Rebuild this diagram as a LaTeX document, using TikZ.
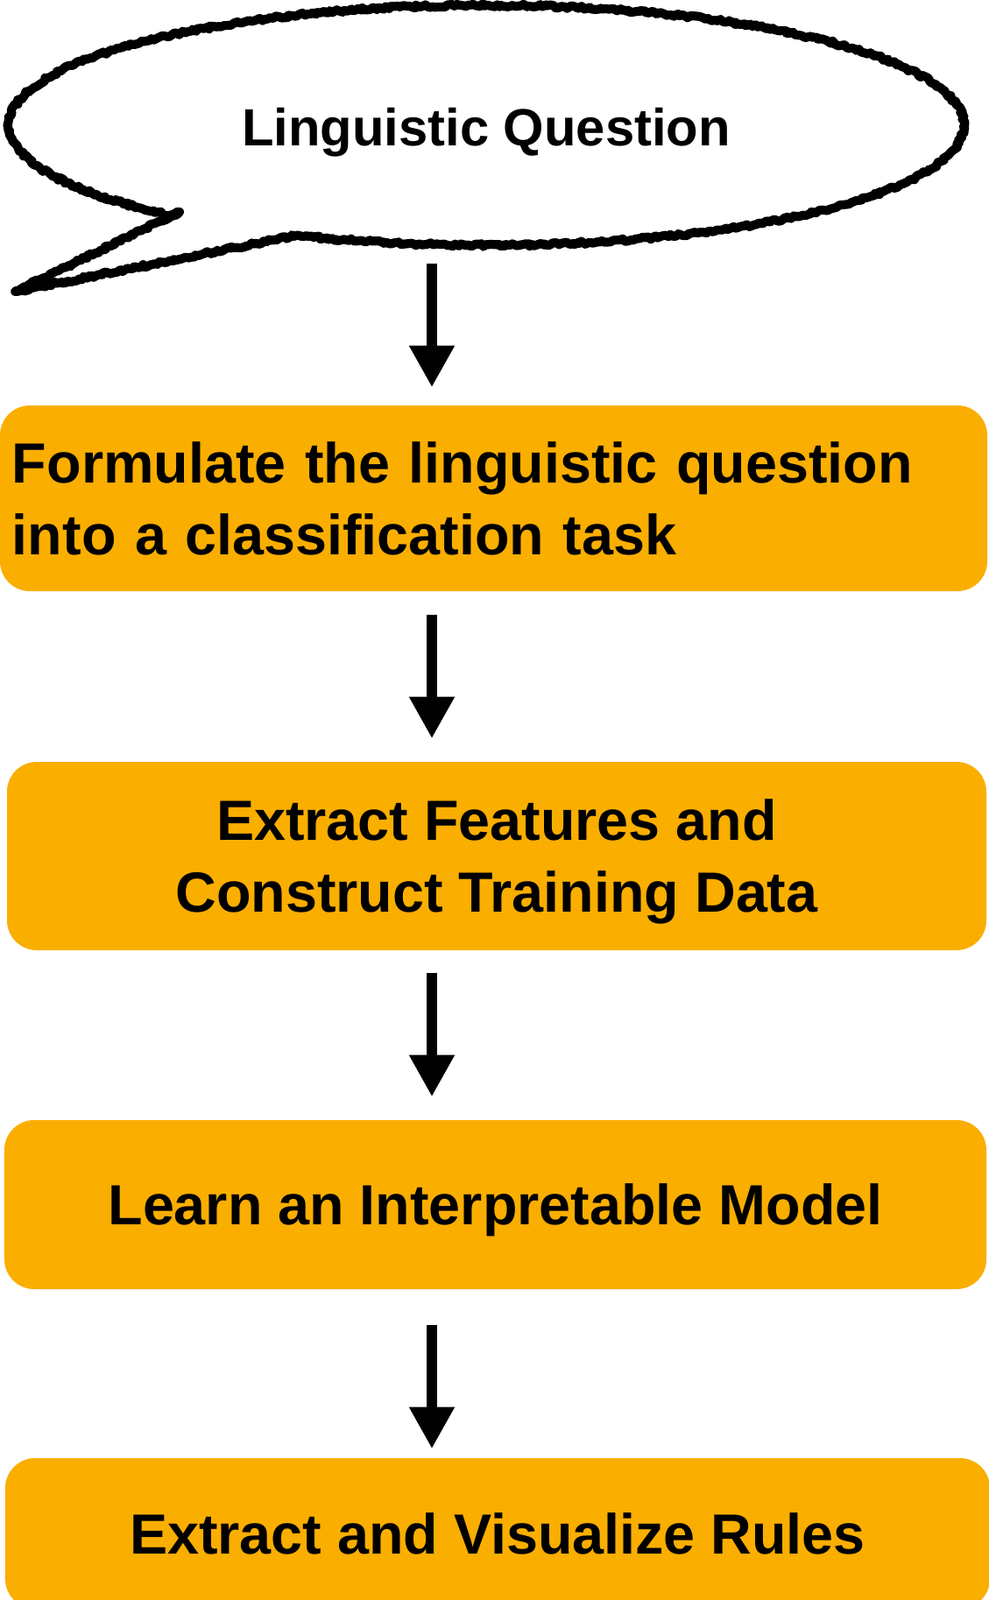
\documentclass[tikz,border=0pt]{standalone}
\usepackage{fontspec}
\setmainfont{Liberation Sans}
\usetikzlibrary{positioning, arrows.meta, decorations.pathmorphing}
\definecolor{stagefill}{RGB}{250, 174, 0}

\tikzset{
  stage/.style={fill=stagefill, rounded corners=0.34cm, text=black,
                font=\fontsize{18.4}{23.3}\selectfont\bfseries, align=center,
                inner sep=0pt},
  flow/.style={line width=3.4pt, -{Triangle[length=13.6pt, width=13.9pt]}},
  sketchy/.style={draw=black, line width=2.9pt, line join=round, fill=white,
                  decorate, decoration={random steps, segment length=0.8pt,
                  amplitude=0.5pt}}
}

\begin{document}
\begin{tikzpicture}
    \useasboundingbox (0, 0) rectangle (11.28, -18.27);
    \coordinate (axis) at (4.93, 0);

    % speech bubble
    \draw[sketchy] (5.55, -1.43) ++(246.6:5.45 and 1.37)
        arc[start angle=246.6, end angle=589, x radius=5.45, y radius=1.37]
        -- (2.05, -2.42) -- (0.17, -3.33) -- cycle;
    \node[minimum width=10.9cm, minimum height=2.74cm,
          font=\fontsize{17}{21}\selectfont\bfseries] (question) at (5.55, -1.51)
        {Linguistic Question};

    % stages
    \node[stage, minimum width=11.27cm, minimum height=2.12cm,
          text width=10.99cm, align=left] (formulate) at (5.635, -5.69)
        {Formulate the linguistic question\\into a classification task};
    \node[stage, minimum width=11.18cm, minimum height=2.15cm,
          text depth=0pt] (features) at (5.67, -9.775)
        {Extract Features and\\Construct Training Data};
    \node[stage, minimum width=11.21cm, minimum height=1.93cm,
          text height=17pt] (model) at (5.655, -13.755)
        {Learn an Interpretable Model};
    \node[stage, minimum width=11.24cm, minimum height=1.72cm]
        (rules) at (5.68, -17.51) {Extract and Visualize Rules};

    % arrows
    \draw[flow, shorten <=0.12cm, shorten >=0.2cm]
        (question.south -| axis) -- (formulate.north -| axis);
    \draw[flow, shorten <=0.26cm, shorten >=0.26cm]
        (formulate.south -| axis) -- (features.north -| axis);
    \draw[flow, shorten <=0.25cm, shorten >=0.26cm]
        (features.south -| axis) -- (model.north -| axis);
    \draw[flow, shorten <=0.40cm, shorten >=0.10cm]
        (model.south -| axis) -- (rules.north -| axis);
\end{tikzpicture}
\end{document}
